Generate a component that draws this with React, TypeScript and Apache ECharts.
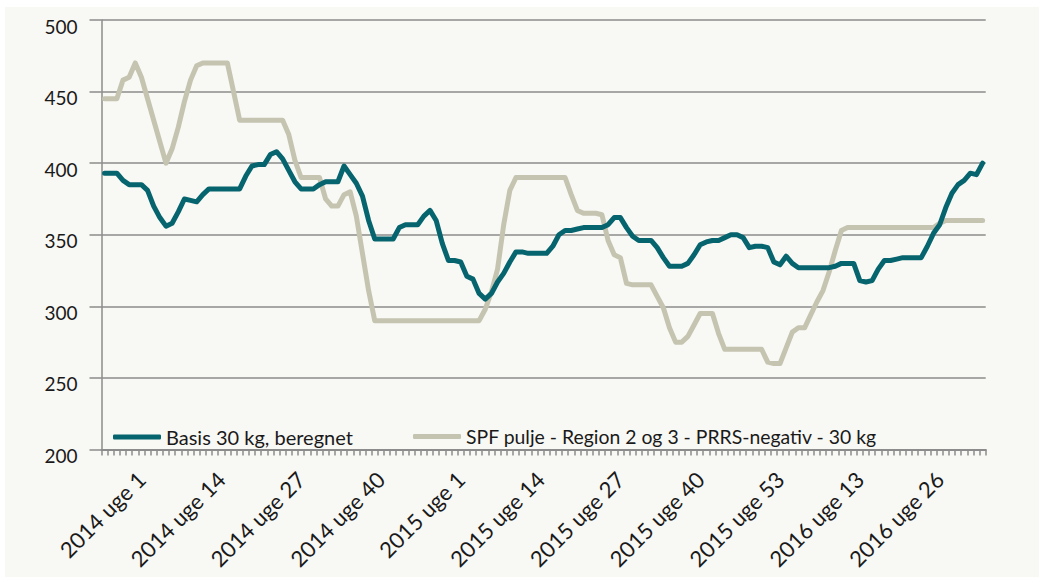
import React, { useEffect, useRef } from "react";
import * as echarts from "echarts";

// Week ranges that make up the category axis: [year, first week, last week]
const weekRanges: [number, number, number][] = [
  [2013, 47, 52],
  [2014, 1, 52],
  [2015, 1, 53],
  [2016, 1, 33],
];
const categories: string[] = [];
for (const [year, from, to] of weekRanges) {
  for (let w = from; w <= to; w++) categories.push(`${year} uge ${w}`);
}

// Labelled ticks: "2014 uge 1" and every 13th week after it
const firstLabel = "2014 uge 1";
const labelStep = 13;

const seriesNames = ["Basis 30 kg, beregnet", "SPF pulje - Region 2 og 3 - PRRS-negativ - 30 kg"];

const basis = [
  393, 393, 393, 388, 385, 385, 385, 381, 370, 362,
  356, 358, 366, 375, 374, 373, 378, 382, 382, 382,
  382, 382, 382, 391, 398, 399, 399, 406, 408, 403,
  395, 387, 382, 382, 382, 385, 387, 387, 387, 398,
  392, 386, 377, 360, 347, 347, 347, 347, 355, 357,
  357, 357, 363, 367, 360, 344, 332, 332, 331, 321,
  319, 309, 305, 309, 317, 323, 331, 338, 338, 337,
  337, 337, 337, 342, 350, 353, 353, 354, 355, 355,
  355, 355, 357, 362, 362, 355, 349, 346, 346, 346,
  341, 334, 328, 328, 328, 330, 336, 343, 345, 346,
  346, 348, 350, 350, 348, 341, 342, 342, 341, 331,
  329, 335, 330, 327, 327, 327, 327, 327, 327, 328,
  330, 330, 330, 318, 317, 318, 326, 332, 332, 333,
  334, 334, 334, 334, 342, 351, 357, 369, 379, 385,
  388, 393, 392, 400,
];

const spf = [
  445, 445, 445, 458, 460, 470, 460, 445, 430, 415,
  400, 410, 425, 443, 458, 468, 470, 470, 470, 470,
  470, 450, 430, 430, 430, 430, 430, 430, 430, 430,
  420, 402, 390, 390, 390, 390, 375, 370, 370, 378,
  380, 363, 337, 311, 290, 290, 290, 290, 290, 290,
  290, 290, 290, 290, 290, 290, 290, 290, 290, 290,
  290, 290, 298, 310, 326, 357, 381, 390, 390, 390,
  390, 390, 390, 390, 390, 390, 378, 367, 365, 365,
  365, 364, 346, 336, 334, 316, 315, 315, 315, 315,
  307, 299, 285, 275, 275, 279, 287, 295, 295, 295,
  281, 270, 270, 270, 270, 270, 270, 270, 261, 260,
  260, 271, 282, 285, 285, 294, 303, 311, 324, 339,
  353, 355, 355, 355, 355, 355, 355, 355, 355, 355,
  355, 355, 355, 355, 355, 355, 358, 360, 360, 360,
  360, 360, 360, 360,
];

const yMin = 200;
const yMax = 500;
const yStep = 50;

const TEAL = "#06646e";
const SAND = "#c5c4b0";
const GRID = "#8c8c8c";
const TEXT = "#1a1a1a";
const FONT = "Lato, 'Open Sans', sans-serif";

export default function App() {
  const ref = useRef<HTMLDivElement>(null);

  useEffect(() => {
    if (!ref.current) return;
    const chart = echarts.init(ref.current, undefined, { renderer: "svg" });
    const firstIdx = categories.indexOf(firstLabel);

    chart.setOption({
      animation: false,
      backgroundColor: "#f8f8f4",
      textStyle: { fontFamily: FONT },
      grid: { left: 96.5, right: 53.3, top: 13, bottom: 127.5, containLabel: false },
      legend: [
        {
          data: [{ name: seriesNames[0], icon: "roundRect" }],
          left: 103,
          top: 415,
          itemWidth: 48,
          itemHeight: 5,
          textStyle: { color: TEXT, fontSize: 20, fontFamily: FONT },
        },
        {
          data: [{ name: seriesNames[1], icon: "roundRect" }],
          left: 403,
          top: 415,
          itemWidth: 48,
          itemHeight: 5,
          textStyle: { color: TEXT, fontSize: 19.4, fontFamily: FONT },
        },
      ],
      xAxis: {
        type: "category",
        data: categories,
        boundaryGap: true,
        axisLine: { lineStyle: { color: GRID, width: 2 } },
        axisTick: { show: true, interval: 0, length: 6, lineStyle: { color: GRID, width: 1.5 } },
        axisLabel: {
          rotate: 45,
          margin: 26,
          color: TEXT,
          fontSize: 22,
          fontFamily: FONT,
          interval: (index: number) => index >= firstIdx && (index - firstIdx) % labelStep === 0,
        },
        splitLine: { show: false },
      },
      yAxis: {
        type: "value",
        min: yMin,
        max: yMax,
        interval: yStep,
        axisLine: { show: true, lineStyle: { color: GRID, width: 1.5 } },
        axisTick: { show: true, length: 12, lineStyle: { color: GRID, width: 1.5 } },
        axisLabel: {
          color: TEXT,
          fontSize: 19,
          fontFamily: FONT,
          margin: 24,
          verticalAlign: "top",
          lineHeight: 12,
        },
        splitLine: { show: true, lineStyle: { color: GRID, width: 1.5 } },
      },
      series: [
        {
          name: seriesNames[0],
          type: "line",
          data: basis,
          showSymbol: false,
          symbol: "none",
          color: TEAL,
          itemStyle: { color: TEAL },
          lineStyle: { color: TEAL, width: 5, cap: "round", join: "round" },
          z: 3,
        },
        {
          name: seriesNames[1],
          type: "line",
          data: spf,
          showSymbol: false,
          symbol: "none",
          color: SAND,
          itemStyle: { color: SAND },
          lineStyle: { color: SAND, width: 5, cap: "round", join: "round" },
          z: 2,
        },
      ],
    });
    return () => chart.dispose();
  }, []);

  return (
    <div style={{ position: "fixed", left: 0, top: 0, width: 1039, height: 585, background: "#ffffff" }}>
      <div ref={ref} style={{ position: "absolute", left: 5, top: 7, width: 1034, height: 570 }} />
    </div>
  );
}
